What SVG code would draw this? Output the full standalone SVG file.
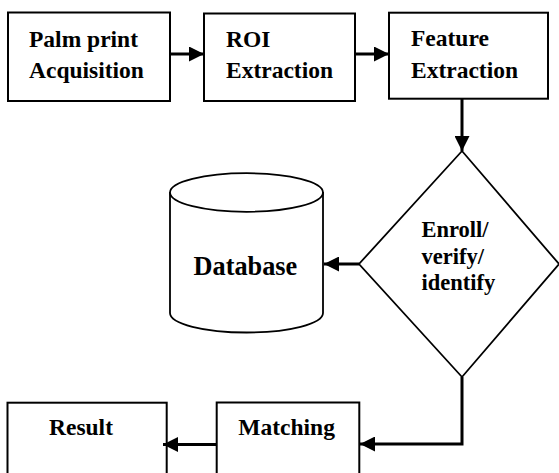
<svg xmlns="http://www.w3.org/2000/svg" width="559" height="473" viewBox="0 0 559 473">
<style>
.box{fill:#fff;stroke:#000;stroke-width:2}
.shape{fill:#fff;stroke:#000;stroke-width:1.8}
.t{font-weight:bold;font-size:23.5px;fill:#000}
.conn{fill:none;stroke:#000;stroke-width:3}
</style>
<defs>
<marker id="ah" markerUnits="userSpaceOnUse" markerWidth="15" markerHeight="15" refX="15" refY="7.5" orient="auto">
<path d="M0,0 L15,7.5 L0,15 z" fill="#000"/>
</marker>
</defs>
<rect width="559" height="473" fill="#fff"/>
<g font-family="Liberation Serif, Times New Roman, Times, serif">
<g id="palmprint">
<rect class="box" x="8" y="12.5" width="162" height="88.5"/>
<text class="t" x="29" y="46.5">Palm print</text>
<text class="t" x="29" y="77.5">Acquisition</text>
</g>
<g id="roi">
<rect class="box" x="204" y="13.5" width="151" height="87.5"/>
<text class="t" x="226" y="46.5">ROI</text>
<text class="t" x="226" y="77.5">Extraction</text>
</g>
<g id="feature">
<rect class="box" x="389" y="12.7" width="159" height="86"/>
<text class="t" x="411" y="46">Feature</text>
<text class="t" x="411" y="77.5">Extraction</text>
</g>
<g id="decision">
<polygon class="shape" points="462,151 559,264 462,377 359,264"/>
<text class="t" style="font-size:22.5px" x="421.5" y="237">Enroll/</text>
<text class="t" style="font-size:22.5px" x="421.5" y="263.5">verify/</text>
<text class="t" style="font-size:22.5px" x="421.5" y="290">identify</text>
</g>
<g id="database">
<path class="shape" d="M170,192 V313 A76.5,19.5 0 0 0 323,313 V192"/>
<ellipse class="shape" cx="246.5" cy="192.5" rx="76.5" ry="19.3"/>
<text class="t" style="font-size:26.3px" x="193.5" y="275">Database</text>
</g>
<g id="matching">
<rect class="box" x="216.7" y="402.5" width="142.6" height="80"/>
<text class="t" x="238.3" y="435">Matching</text>
</g>
<g id="result">
<rect class="box" x="7.5" y="402.7" width="159.2" height="80"/>
<text class="t" x="49" y="435">Result</text>
</g>
</g>
<g id="connectors">
<path class="conn" d="M170,54 H204" marker-end="url(#ah)"/>
<path class="conn" d="M355,54 H389" marker-end="url(#ah)"/>
<path class="conn" d="M462,99 V151" marker-end="url(#ah)"/>
<path class="conn" d="M359,264 H324" marker-end="url(#ah)"/>
<path class="conn" d="M462,377 V444 H360" marker-end="url(#ah)"/>
<path class="conn" d="M217,444.5 H163" marker-end="url(#ah)"/>
</g>
</svg>
